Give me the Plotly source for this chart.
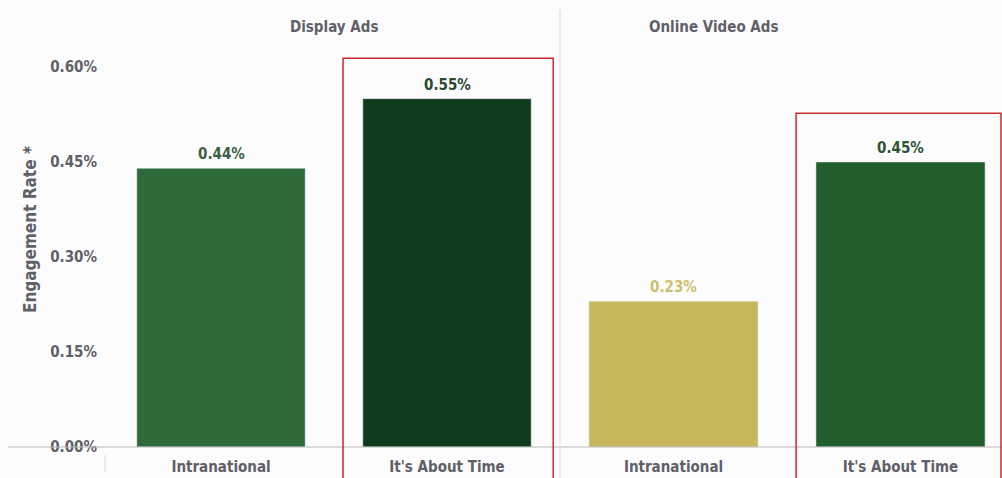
import plotly.graph_objects as go

# Engagement rate (%) by ad format and campaign
categories = ["Intranational", "It's About Time"]
display_ads = [0.44, 0.55]
video_ads = [0.23, 0.45]
panel_titles = ["Display Ads", "Online Video Ads"]
y_ticks = [0.00, 0.15, 0.30, 0.45, 0.60]

display_colors = ["#2f6a3b", "#0f3d1c"]
video_colors = ["#c6b75a", "#235f2e"]
label_colors_display = ["#3d5e42", "#294a30"]
label_colors_video = ["#cdbf6e", "#2e5335"]

W, H = 1002, 478
M_L, M_R, M_T, M_B = 0, 0, 67, 31
Y_MAX = 0.60

FONT = "Liberation Sans Narrow, DejaVu Sans Condensed, Roboto, sans-serif"
GREY = "#606068"

# panel domains in pixels
dom1 = (108, 560)
dom2 = (560, 1002)
rng1 = [-0.5, 1.5]
rng2 = [-0.5, -0.5 + (dom2[1] - dom2[0]) / 227.0]


def to_px(v, dom, rng):
    return dom[0] + (v - rng[0]) / (rng[1] - rng[0]) * (dom[1] - dom[0])


fig = go.Figure()

fig.add_trace(go.Bar(
    x=categories, y=display_ads, marker_color=display_colors,
    width=0.745, xaxis="x", yaxis="y", showlegend=False,
))
fig.add_trace(go.Bar(
    x=categories, y=video_ads, marker_color=video_colors,
    width=0.745, xaxis="x2", yaxis="y", showlegend=False,
))

annotations = []
for xref, vals, cols in (("x", display_ads, label_colors_display),
                         ("x2", video_ads, label_colors_video)):
    for cat, v, c in zip(categories, vals, cols):
        annotations.append(dict(
            x=cat, y=v, xref=xref, yref="y", text=f"<b>{v:.2f}%</b>",
            showarrow=False, yanchor="bottom", yshift=3,
            font=dict(family=FONT, size=15, color=c),
        ))

# panel titles
for title, dom in zip(panel_titles, (dom1, dom2)):
    annotations.append(dict(
        x=(dom[0] + dom[1]) / 2 / W, y=1 + (M_T - 27) / (H - M_T - M_B),
        xref="paper", yref="paper", text=f"<b>{title}</b>", showarrow=False,
        yanchor="middle", font=dict(family=FONT, size=15, color=GREY),
    ))

# y-axis title
annotations.append(dict(
    x=30 / W, y=(447 - 230) / (H - M_T - M_B),
    xref="paper", yref="paper", text="<b>Engagement Rate *</b>",
    textangle=-90, showarrow=False, xanchor="center", yanchor="middle",
    font=dict(family=FONT, size=17, color=GREY),
))

plot_h = H - M_T - M_B
shapes = []
# baseline
shapes.append(dict(type="line", xref="paper", yref="paper",
                   x0=8 / W, x1=1, y0=0, y1=0,
                   line=dict(color="#b8b8b8", width=1)))
# panel divider
shapes.append(dict(type="line", xref="paper", yref="paper",
                   x0=560 / W, x1=560 / W, y0=-M_B / plot_h, y1=(447 - 10) / plot_h,
                   line=dict(color="#dcdcdc", width=1)))
# short tick below baseline
shapes.append(dict(type="line", xref="paper", yref="paper",
                   x0=105 / W, x1=105 / W, y0=-8 / plot_h, y1=-25 / plot_h,
                   line=dict(color="#d8d8d8", width=1)))

# highlight boxes around the "It's About Time" bars
for dom, rng, v, pad in ((dom1, rng1, display_ads[1], 0.064),
                         (dom2, rng2, video_ads[1], 0.077)):
    x0 = to_px(1 - 0.46, dom, rng) / W
    x1 = min(to_px(1 + 0.47, dom, rng), W - 1) / W
    shapes.append(dict(type="rect", xref="paper", yref="paper",
                       x0=x0, x1=x1, y0=-(M_B + 5) / plot_h, y1=(v + pad) / Y_MAX,
                       line=dict(color="#cc2a2a", width=1.5)))

axis_common = dict(
    type="category", showgrid=False, zeroline=False, showline=False,
    ticks="", tickfont=dict(family=FONT, size=15, color=GREY),
    ticklabelstandoff=9, fixedrange=True,
)

fig.update_layout(
    width=W, height=H,
    margin=dict(l=M_L, r=M_R, t=M_T, b=M_B),
    paper_bgcolor="#fcfcfc", plot_bgcolor="rgba(0,0,0,0)",
    bargap=0.25,
    xaxis=dict(domain=[dom1[0] / W, dom1[1] / W], range=rng1, **axis_common),
    xaxis2=dict(domain=[dom2[0] / W, dom2[1] / W], range=rng2, anchor="y", **axis_common),
    yaxis=dict(
        range=[0, Y_MAX], tickvals=y_ticks,
        ticktext=[f"<b>{t:.2f}%</b>" for t in y_ticks],
        showgrid=False, zeroline=False, showline=False, ticks="",
        tickfont=dict(family=FONT, size=15, color=GREY),
        ticklabelstandoff=10, fixedrange=True,
    ),
    annotations=annotations,
    shapes=shapes,
    font=dict(family=FONT),
)

fig.update_xaxes(tickmode="array", tickvals=categories,
                 ticktext=[f"<b>{c}</b>" for c in categories])

fig.write_html("out.html")
